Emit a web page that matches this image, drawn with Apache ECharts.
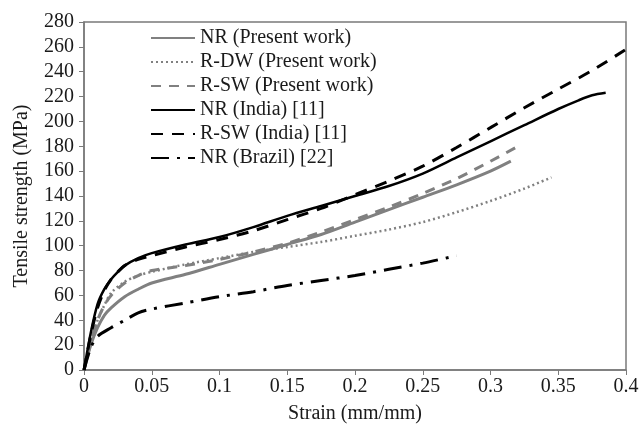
<!DOCTYPE html>
<html lang="en">
<head>
    <meta charset="UTF-8">
    <title>Tensile strength vs strain</title>
    <style type="text/css">
        html, body{
            margin: 0;
            padding: 0;
            background-color: #ffffff;
        }
        #chart{
            width: 642px;
            height: 431px;
        }
    </style>
</head>
<body>
<div id="chart"></div>
</body>
<script src="https://cdn.jsdelivr.net/npm/echarts@6/dist/echarts.min.js"></script>

<script type="text/javascript">
    var xTicks = [0, 0.05, 0.1, 0.15, 0.2, 0.25, 0.3, 0.35, 0.4];
    var yTicks = [0, 20, 40, 60, 80, 100, 120, 140, 160, 180, 200, 220, 240, 260, 280];

    var nrPresentStrain = [0, 0.005, 0.01, 0.015, 0.02, 0.03, 0.04, 0.05, 0.075, 0.1, 0.125, 0.15, 0.175, 0.2, 0.225, 0.25, 0.275, 0.3, 0.315];
    var nrPresentStress = [0, 20, 34, 44, 50, 59, 65, 70, 77, 85, 93, 101, 109, 119, 129, 139, 149, 160, 168];

    var rdwStrain = [0, 0.005, 0.01, 0.015, 0.02, 0.03, 0.04, 0.05, 0.075, 0.1, 0.125, 0.15, 0.175, 0.2, 0.225, 0.25, 0.275, 0.3, 0.325, 0.345];
    var rdwStress = [0, 22, 40, 52, 62, 71, 76, 79, 85, 90, 95, 99, 103, 108, 113, 119, 127, 136, 146, 155];

    var rswPresentStrain = [0, 0.005, 0.01, 0.015, 0.02, 0.03, 0.04, 0.05, 0.075, 0.1, 0.125, 0.15, 0.175, 0.2, 0.225, 0.25, 0.275, 0.3, 0.322];
    var rswPresentStress = [0, 22, 40, 52, 60, 70, 76, 80, 84, 89, 95, 102, 111, 121, 131, 142, 154, 168, 181];

    var nrIndiaStrain = [0, 0.005, 0.01, 0.015, 0.02, 0.025, 0.03, 0.04, 0.05, 0.075, 0.1, 0.125, 0.15, 0.175, 0.2, 0.225, 0.25, 0.275, 0.3, 0.325, 0.35, 0.365, 0.375, 0.385];
    var nrIndiaStress = [0, 30, 53, 65, 73, 79, 84, 90, 94, 101, 107, 115, 124, 132, 140, 148, 158, 171, 184, 197, 210, 217, 221, 223];

    var rswIndiaStrain = [0, 0.005, 0.01, 0.015, 0.02, 0.025, 0.03, 0.04, 0.05, 0.075, 0.1, 0.125, 0.15, 0.175, 0.2, 0.225, 0.25, 0.275, 0.3, 0.325, 0.35, 0.375, 0.4];
    var rswIndiaStress = [0, 28, 50, 64, 73, 79, 84, 89, 92, 99, 105, 112, 121, 130, 141, 152, 164, 179, 195, 211, 226, 241, 258];

    var nrBrazilStrain = [0, 0.005, 0.01, 0.02, 0.03, 0.04, 0.05, 0.075, 0.1, 0.125, 0.15, 0.175, 0.2, 0.225, 0.25, 0.275];
    var nrBrazilStress = [0, 18, 27, 34, 40, 46, 49, 54, 59, 63, 68, 72, 76, 81, 86, 92];

    var legendNames = ['NR (Present work)', 'R-DW (Present work)', 'R-SW (Present work)',
                       'NR (India) [11]', 'R-SW (India) [11]', 'NR (Brazil) [22]'];

    function pairs(xs, ys){
        var out = [];
        for (var i = 0; i < xs.length; i++) {
            out.push([xs[i], ys[i]]);
        }
        return out;
    }

    function lineSeries(name, xs, ys, color, width, type){
        return {
            name: name,
            type: 'line',
            data: pairs(xs, ys),
            symbol: 'none',
            smooth: 0.3,
            itemStyle: { color: color },
            lineStyle: { color: color, width: width, type: type }
        };
    }

    var serif = 'Liberation Serif';
    var gray = '#808080';

    var chart = echarts.init(document.getElementById('chart'));
    chart.setOption({
    animation: false,
    backgroundColor: '#ffffff',
    grid: {
        left: 84,
        right: 16,
        top: 22,
        bottom: 61,
        show: true,
        borderColor: '#7a7a7a',
        borderWidth: 1.5
    },
    legend: {
        orient: 'vertical',
        left: 150,
        top: 28,
        padding: 0,
        itemWidth: 44,
        itemHeight: 14,
        itemGap: 4,
        itemStyle: { opacity: 0 },
        textStyle: {
            fontFamily: serif,
            fontSize: 20,
            lineHeight: 20,
            color: '#1a1a1a'
        },
        data: legendNames
    },
    xAxis: {
        type: 'value',
        min: xTicks[0],
        max: xTicks[xTicks.length - 1],
        interval: 0.05,
        name: 'Strain (mm/mm)',
        nameLocation: 'middle',
        nameGap: 34,
        nameTextStyle: { fontFamily: serif, fontSize: 20, color: '#1a1a1a' },
        axisLine: { lineStyle: { color: '#7a7a7a', width: 1.5 } },
        axisTick: { show: true, inside: false, length: 5, lineStyle: { color: '#7a7a7a' } },
        axisLabel: { fontFamily: serif, fontSize: 20, color: '#1a1a1a', margin: 7 },
        splitLine: { show: false }
    },
    yAxis: {
        type: 'value',
        min: yTicks[0],
        max: yTicks[yTicks.length - 1],
        interval: 20,
        name: 'Tensile strength (MPa)',
        nameLocation: 'middle',
        nameGap: 52,
        nameTextStyle: { fontFamily: serif, fontSize: 20, color: '#1a1a1a' },
        axisLine: { lineStyle: { color: '#7a7a7a', width: 1.5 } },
        axisTick: { show: true, inside: false, length: 5, lineStyle: { color: '#7a7a7a' } },
        axisLabel: { fontFamily: serif, fontSize: 20, color: '#1a1a1a', margin: 10 },
        splitLine: { show: false }
    },
    series: [
        lineSeries(legendNames[0], nrPresentStrain, nrPresentStress, gray, 3, 'solid'),
        lineSeries(legendNames[1], rdwStrain, rdwStress, gray, 2.5, [2, 3]),
        lineSeries(legendNames[2], rswPresentStrain, rswPresentStress, gray, 3, [10, 8]),
        lineSeries(legendNames[3], nrIndiaStrain, nrIndiaStress, '#000000', 2.5, 'solid'),
        lineSeries(legendNames[4], rswIndiaStrain, rswIndiaStress, '#000000', 3, [12, 9]),
        lineSeries(legendNames[5], nrBrazilStrain, nrBrazilStress, '#000000', 3, [18, 8, 3, 8])
    ]
    });
</script>

</html>
